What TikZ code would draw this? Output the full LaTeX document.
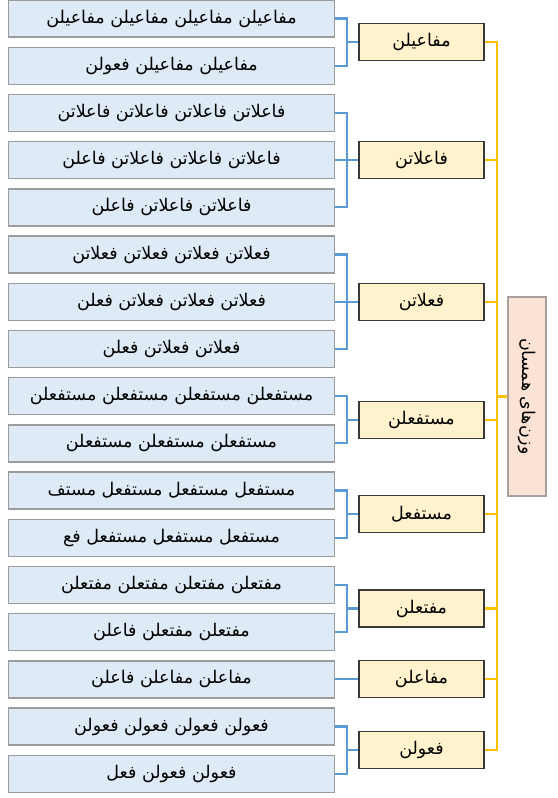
\documentclass[tikz,border=0pt]{standalone}
\usepackage{fontspec}
\newfontfamily\arabicfont[Script=Arabic]{DejaVu Sans}
\TeXXeTstate=1
\definecolor{leaffill}{HTML}{DEEAF6}
\definecolor{leafdraw}{HTML}{9C9C9C}
\definecolor{midfill}{HTML}{FFF2CC}
\definecolor{middraw}{HTML}{383838}
\definecolor{rootfill}{HTML}{FAE2D5}
\definecolor{rootdraw}{HTML}{A8A0A0}
\definecolor{blueln}{HTML}{5B9BD5}
\definecolor{yellowln}{HTML}{FFC000}
\newcommand\myfa[1]{\beginR #1\endR}
\begin{document}
\begin{tikzpicture}[x=1pt,y=-1pt,
  txt/.style={font=\arabicfont\fontsize{17.5}{20}\selectfont, inner sep=0pt},
  leaf/.style={txt, draw=leafdraw, fill=leaffill, line width=1.4pt, minimum width=326pt, minimum height=37pt},
  mid/.style={txt, draw=middraw, fill=midfill, line width=1.3pt, minimum width=125pt, minimum height=37pt},
  rootbox/.style={txt, draw=rootdraw, fill=rootfill, line width=1.4pt, minimum width=199pt, minimum height=38pt},
  bl/.style={draw=blueln, line width=2.3pt},
  yl/.style={draw=yellowln, line width=2.3pt}]
\useasboundingbox (0,0) rectangle (557,798);
% leaves
\node[leaf] (l1) at (171.5,18.5) {\myfa{مفاعیلن مفاعیلن مفاعیلن مفاعیلن}};
\node[leaf] (l2) at (171.5,65.7) {\myfa{مفاعیلن مفاعیلن فعولن}};
\node[leaf] (l3) at (171.5,112.9) {\myfa{فاعلاتن فاعلاتن فاعلاتن فاعلاتن}};
\node[leaf] (l4) at (171.5,160.1) {\myfa{فاعلاتن فاعلاتن فاعلاتن فاعلن}};
\node[leaf] (l5) at (171.5,207.3) {\myfa{فاعلاتن فاعلاتن فاعلن}};
\node[leaf] (l6) at (171.5,254.5) {\myfa{فعلاتن فعلاتن فعلاتن فعلاتن}};
\node[leaf] (l7) at (171.5,301.7) {\myfa{فعلاتن فعلاتن فعلاتن فعلن}};
\node[leaf] (l8) at (171.5,348.9) {\myfa{فعلاتن فعلاتن فعلن}};
\node[leaf] (l9) at (171.5,396.1) {\myfa{مستفعلن مستفعلن مستفعلن مستفعلن}};
\node[leaf] (l10) at (171.5,443.3) {\myfa{مستفعلن مستفعلن مستفعلن}};
\node[leaf] (l11) at (171.5,490.5) {\myfa{مستفعل مستفعل مستفعل مستف}};
\node[leaf] (l12) at (171.5,537.7) {\myfa{مستفعل مستفعل مستفعل فع}};
\node[leaf] (l13) at (171.5,584.9) {\myfa{مفتعلن مفتعلن مفتعلن مفتعلن}};
\node[leaf] (l14) at (171.5,632.1) {\myfa{مفتعلن مفتعلن فاعلن}};
\node[leaf] (l15) at (171.5,679.3) {\myfa{مفاعلن مفاعلن فاعلن}};
\node[leaf] (l16) at (171.5,726.5) {\myfa{فعولن فعولن فعولن فعولن}};
\node[leaf] (l17) at (171.5,773.7) {\myfa{فعولن فعولن فعل}};
% middle
\node[mid] (m1) at (421.5,42.1) {\myfa{مفاعیلن}};
\node[mid] (m2) at (421.5,160.1) {\myfa{فاعلاتن}};
\node[mid] (m3) at (421.5,301.7) {\myfa{فعلاتن}};
\node[mid] (m4) at (421.5,419.7) {\myfa{مستفعلن}};
\node[mid] (m5) at (421.5,514.1) {\myfa{مستفعل}};
\node[mid] (m6) at (421.5,608.5) {\myfa{مفتعلن}};
\node[mid] (m7) at (421.5,679.3) {\myfa{مفاعلن}};
\node[mid] (m8) at (421.5,750.1) {\myfa{فعولن}};
% root
\node[rootbox, rotate=-90] (r) at (527,396.5) {\myfa{وزن‌های همسان}};
% connectors leaf -> middle
\foreach \l/\m in {l1/m1,l2/m1,l3/m2,l4/m2,l5/m2,l6/m3,l7/m3,l8/m3,l9/m4,l10/m4,l11/m5,l12/m5,l13/m6,l14/m6,l15/m7,l16/m8,l17/m8}
  \draw[bl] (\l.east) -- ++(12,0) |- (\m.west);
% connectors middle -> root
\foreach \m in {m1,m2,m3,m4,m5,m6,m7,m8}
  \draw[yl] (\m.east) -- ++(12,0) |- (r.south);
\end{tikzpicture}
\end{document}
